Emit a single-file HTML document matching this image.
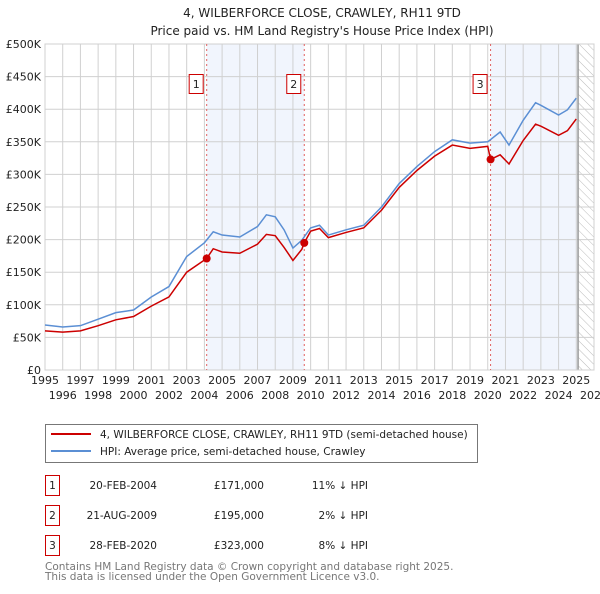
<!DOCTYPE html>
<html><head><meta charset="utf-8"><style>
body{margin:0;background:#fff;font-family:"DejaVu Sans","Liberation Sans",sans-serif;}
svg text{font-family:"DejaVu Sans","Liberation Sans",sans-serif;}
</style></head><body>
<svg id="c" width="600" height="590" viewBox="0 0 600 590" xmlns="http://www.w3.org/2000/svg">
<defs><pattern id="hatch" width="6" height="6" patternUnits="userSpaceOnUse" patternTransform="rotate(-45)"><line x1="0" y1="0" x2="0" y2="6" stroke="#bbb" stroke-width="1"/></pattern></defs>
<text x="322" y="17" text-anchor="middle" font-size="12" fill="#222">4, WILBERFORCE CLOSE, CRAWLEY, RH11 9TD</text>
<text x="322" y="35" text-anchor="middle" font-size="12" fill="#222">Price paid vs. HM Land Registry's House Price Index (HPI)</text>
<g id="plot"></g>
<g>
<rect x="45.5" y="424.5" width="432" height="38" fill="#fff" stroke="#777"/>
<line x1="51" y1="434" x2="91" y2="434" stroke="#cc0000" stroke-width="2"/>
<text x="100" y="438" font-size="10.5" fill="#222">4, WILBERFORCE CLOSE, CRAWLEY, RH11 9TD (semi-detached house)</text>
<line x1="51" y1="451" x2="91" y2="451" stroke="#5b8fd4" stroke-width="2"/>
<text x="100" y="455" font-size="10.5" fill="#222">HPI: Average price, semi-detached house, Crawley</text>
</g>
<g font-size="10.5" fill="#222">
<rect x="45.5" y="475.5" width="14" height="20" fill="#fff" stroke="#cc0000"/><text x="52.5" y="489" text-anchor="middle">1</text>
<text x="157" y="489" text-anchor="end">20-FEB-2004</text><text x="264" y="489" text-anchor="end">£171,000</text><text x="368" y="489" text-anchor="end">11% ↓ HPI</text>
<rect x="45.5" y="505.5" width="14" height="20" fill="#fff" stroke="#cc0000"/><text x="52.5" y="519" text-anchor="middle">2</text>
<text x="157" y="519" text-anchor="end">21-AUG-2009</text><text x="264" y="519" text-anchor="end">£195,000</text><text x="368" y="519" text-anchor="end">2% ↓ HPI</text>
<rect x="45.5" y="535.5" width="14" height="20" fill="#fff" stroke="#cc0000"/><text x="52.5" y="549" text-anchor="middle">3</text>
<text x="157" y="549" text-anchor="end">28-FEB-2020</text><text x="264" y="549" text-anchor="end">£323,000</text><text x="368" y="549" text-anchor="end">8% ↓ HPI</text>
</g>
<text x="45" y="570" font-size="10.5" fill="#777">Contains HM Land Registry data © Crown copyright and database right 2025.</text>
<text x="45" y="580" font-size="10.5" fill="#777">This data is licensed under the Open Government Licence v3.0.</text>
</svg>
<script>
const hpiYears=[1995,1996,1997,1998,1999,2000,2001,2002,2003,2004,2004.5,2005,2006,2007,2007.5,2008,2008.5,2009,2009.5,2010,2010.5,2011,2012,2013,2014,2015,2016,2017,2018,2019,2020,2020.7,2021.2,2022,2022.7,2023,2024,2024.5,2025];
const hpiValues=[69,66,68,78,88,92,112,128,174,195,212,207,204,220,238,235,215,187,199,218,222,207,215,222,250,286,312,335,353,348,350,365,345,383,410,406,391,399,417];
const priceYears=[1995,1996,1997,1998,1999,2000,2001,2002,2003,2004.13,2004.5,2005,2006,2007,2007.5,2008,2008.5,2009,2009.5,2009.64,2010,2010.5,2011,2012,2013,2014,2015,2016,2017,2018,2019,2020,2020.16,2020.7,2021.2,2022,2022.7,2023,2024,2024.5,2025];
const priceValues=[60,58,60,68,77,82,98,112,150,171,186,181,179,193,208,206,188,168,185,195,213,217,203,211,218,245,280,306,328,345,340,343,323,330,316,352,377,374,360,367,385];
const saleYears=[2004.13,2009.64,2020.16];
const saleValues=[171,195,323];
const saleLabels=["1","2","3"];
const yTicks=[0,50,100,150,200,250,300,350,400,450,500];
const yTickLabels=["£0","£50K","£100K","£150K","£200K","£250K","£300K","£350K","£400K","£450K","£500K"];
const xTicks=[1995,1996,1997,1998,1999,2000,2001,2002,2003,2004,2005,2006,2007,2008,2009,2010,2011,2012,2013,2014,2015,2016,2017,2018,2019,2020,2021,2022,2023,2024,2025,2026];
const X0=45,X1=594,Y0=370,Y1=44;
const xs=y=>X0+(y-1995)/(2026-1995)*(X1-X0);
const ys=v=>Y0-v/500*(Y0-Y1);
const NS="http://www.w3.org/2000/svg";
const g=document.getElementById('plot');
function mk(t,a){const e=document.createElementNS(NS,t);for(const k in a)e.setAttribute(k,a[k]);g.appendChild(e);return e;}
const bg=mk('rect',{x:X0,y:Y1,width:X1-X0,height:Y0-Y1,fill:'#fff'});


const s1=mk('rect',{x:xs(2004.13),y:Y1,width:xs(2009.64)-xs(2004.13),height:Y0-Y1,fill:'#eef3fc',opacity:0.8});


const s2=mk('rect',{x:xs(2020.16),y:Y1,width:xs(2025.1)-xs(2020.16),height:Y0-Y1,fill:'#eef3fc',opacity:0.8});


const hf=mk('rect',{x:xs(2025.1),y:Y1,width:X1-xs(2025.1),height:Y0-Y1,fill:'url(#hatch)'});


xTicks.forEach((t,i)=>{const l=mk('line',{x1:xs(t),x2:xs(t),y1:Y1,y2:Y0,stroke:'#d0d0d0'});


const tx=mk('text',{x:xs(t),y:(i%2===0?Y0+14:Y0+29),'text-anchor':'middle','font-size':'11',fill:'#222'});tx.textContent=t;

});
yTicks.forEach((t,i)=>{const l=mk('line',{x1:X0,x2:X1,y1:ys(t),y2:ys(t),stroke:'#d0d0d0'});


const tx=mk('text',{x:X0-4,y:ys(t)+4,'text-anchor':'end','font-size':'11',fill:'#222'});tx.textContent=yTickLabels[i];

});
const fl=mk('line',{x1:xs(2025.1),x2:xs(2025.1),y1:Y1,y2:Y0,stroke:'#999','stroke-width':1.5});


const fr=mk('rect',{x:X0,y:Y1,width:X1-X0,height:Y0-Y1,fill:'none',stroke:'#d0d0d0'});


saleYears.forEach((y,i)=>{const l=mk('line',{x1:xs(y),x2:xs(y),y1:Y1,y2:Y0,stroke:'#e06060','stroke-dasharray':'2,3'});

});
const hp=mk('polyline',{points:hpiYears.map((y,i)=>xs(y)+','+ys(hpiValues[i])).join(' '),fill:'none',stroke:'#5b8fd4','stroke-width':1.5});


const pp=mk('polyline',{points:priceYears.map((y,i)=>xs(y)+','+ys(priceValues[i])).join(' '),fill:'none',stroke:'#cc0000','stroke-width':1.5});


saleYears.forEach((y,i)=>{const c=mk('circle',{cx:xs(y),cy:ys(saleValues[i]),r:4,fill:'#cc0000'});


const b=mk('rect',{x:xs(y)-17.5,y:74.5,width:14,height:19,fill:'#fff',stroke:'#cc0000'});


const t=mk('text',{x:xs(y)-10.5,y:88,'text-anchor':'middle','font-size':'11',fill:'#222'});t.textContent=saleLabels[i];

});
</script>
</body></html>
